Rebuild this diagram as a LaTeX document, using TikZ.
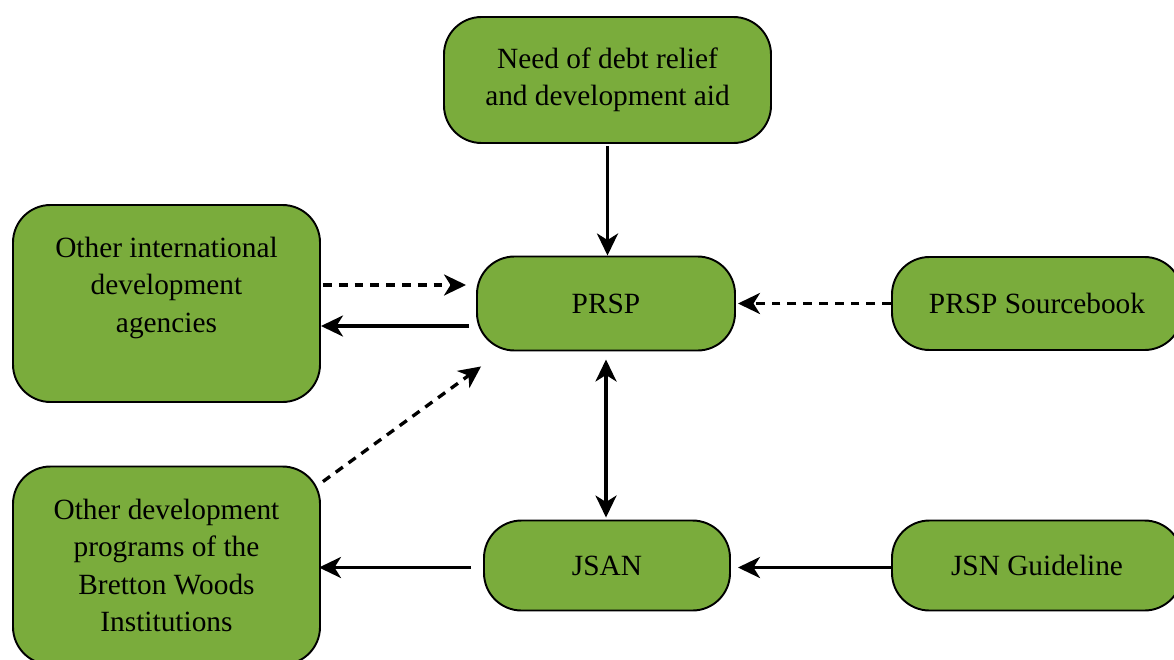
\documentclass[tikz,border=0pt]{standalone}
\usepackage{fontspec}
\setmainfont{Liberation Serif}
\usetikzlibrary{arrows.meta}
\definecolor{boxgreen}{RGB}{122,172,60}

\begin{document}
\begin{tikzpicture}[>={Stealth[length=4.4mm,width=4.2mm,inset=1.3mm]},
        box/.style={draw=black,line width=1.1pt,fill=boxgreen,rounded corners=0.75cm,
            align=center,font=\fontsize{16.7}{21.3}\selectfont},
        link/.style={line width=1.9pt},
        dlink/.style={line width=1.9pt,dash pattern=on 5pt off 4pt}]
        \useasboundingbox (0,0) rectangle (23.48,13.18);
        \node[box,minimum width=6.54cm,minimum height=2.52cm] (need) at (12.15,11.58)
            {Need of debt relief\\and development aid};
        \node[box,minimum width=6.14cm,minimum height=3.94cm] (intl) at (3.33,7.11)
            {Other international\\development\\agencies\\~};
        \node[box,minimum width=5.16cm,minimum height=1.88cm] (prsp) at (12.12,7.11) {PRSP};
        \node[box,minimum width=5.8cm,minimum height=1.86cm] (src) at (20.74,7.11) {PRSP Sourcebook};
        \node[box,minimum width=6.14cm,minimum height=3.96cm] (dev) at (3.33,1.87)
            {Other development\\programs of the\\Bretton Woods\\Institutions};
        \node[box,minimum width=4.92cm,minimum height=1.8cm] (jsan) at (12.14,1.87) {JSAN};
        \node[box,minimum width=5.8cm,minimum height=1.8cm] (jsn) at (20.74,1.87) {JSN Guideline};
        % links
        \draw[link,->] ([yshift=-0.04cm]need.south) -- (need.south |- prsp.north);
        \draw[dlink,->] ([xshift=0.04cm,yshift=0.37cm]intl.east) -- ([xshift=-0.2cm,yshift=0.37cm]prsp.west);
        \draw[link,->] ([xshift=-0.14cm,yshift=-0.45cm]prsp.west) -- ([yshift=-0.45cm]intl.east);
        \draw[dlink,->] ([shift={(0.04,-0.32)}]dev.north east) -- ([shift={(0.1,-0.3)}]prsp.south west);
        \draw[link,<->] ([yshift=-0.16cm]prsp.south) -- ([yshift=0.04cm]prsp.south |- jsan.north);
        \draw[dlink,->] (src.west) -- ([xshift=0.04cm]prsp.east);
        \draw[link,->] ([xshift=-0.24cm,yshift=-0.04cm]jsan.west) -- ([xshift=-0.04cm,yshift=-0.04cm]dev.east);
        \draw[link,->] ([yshift=-0.04cm]jsn.west) -- ([xshift=0.14cm,yshift=-0.04cm]jsan.east);
    \end{tikzpicture}
\end{document}
